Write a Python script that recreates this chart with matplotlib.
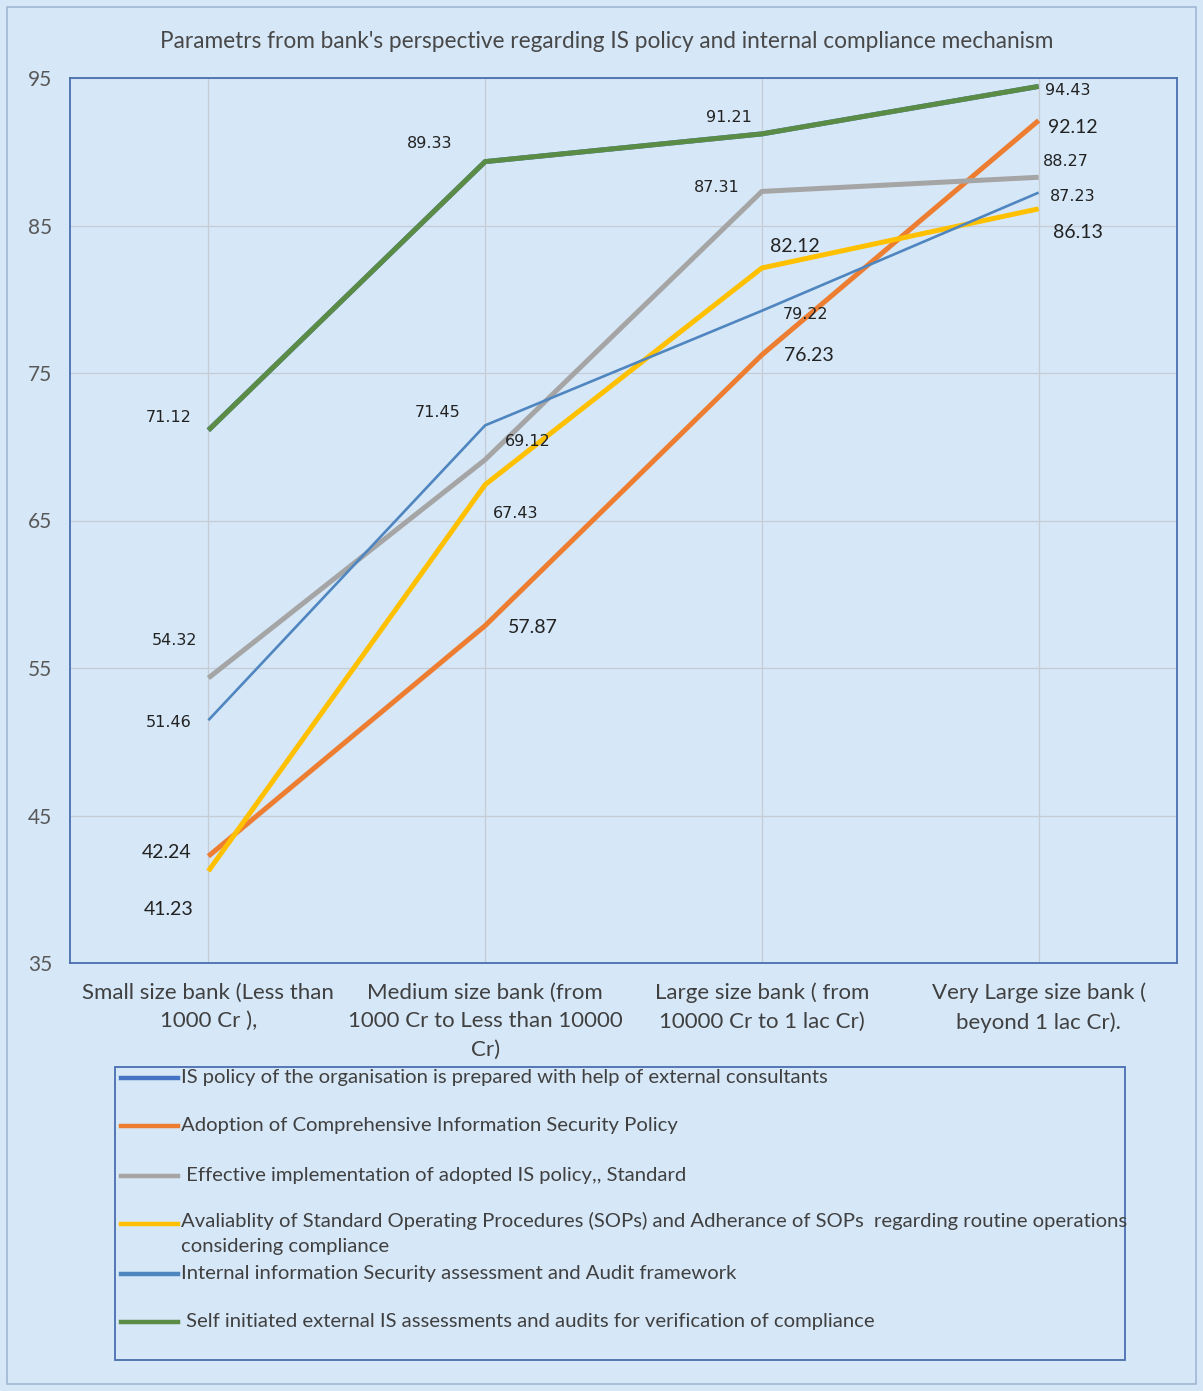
import matplotlib
matplotlib.use('Agg')
import matplotlib.pyplot as plt
from matplotlib.lines import Line2D
from matplotlib.patches import Rectangle

# chart data
categories = [
    "Small size bank (Less than\n1000 Cr ),",
    "Medium size bank (from\n1000 Cr to Less than 10000\nCr)",
    "Large size bank ( from\n10000 Cr to 1 lac Cr)",
    "Very Large size bank (\nbeyond 1 lac Cr).",
]
series_names = [
    "IS policy of the organisation is prepared with help of external consultants",
    "Adoption of Comprehensive Information Security Policy",
    " Effective implementation of adopted IS policy,, Standard",
    "Avaliablity of Standard Operating Procedures (SOPs) and Adherance of SOPs  regarding routine operations\nconsidering compliance",
    "Internal information Security assessment and Audit framework",
    " Self initiated external IS assessments and audits for verification of compliance",
]
is_policy_external = [71.12, 89.33, 91.21, 94.43]
adoption_policy = [42.24, 57.87, 76.23, 92.12]
effective_impl = [54.32, 69.12, 87.31, 88.27]
sop_availability = [41.23, 67.43, 82.12, 86.13]
internal_audit = [51.46, 71.45, 79.22, 87.23]
external_audit = [71.12, 89.33, 91.21, 94.43]
y_ticks = [35, 45, 55, 65, 75, 85, 95]
title = "Parametrs from bank's perspective regarding IS policy and internal compliance mechanism"

series = [is_policy_external, adoption_policy, effective_impl,
          sop_availability, internal_audit, external_audit]
colors = ["#4472C4", "#ED7D31", "#A5A5A5", "#FFC000", "#4F86C0", "#5B8C46"]
widths = [3.6, 3.6, 3.6, 3.6, 1.9, 3.6]

# label offsets in pixels from each point (row per series)
label_offsets = [
    None,
    [(-42, 4), (48, -2), (47, -1), (34, -7)],
    [(-34, 38), (43, 18), (-45, 4), (27, 16)],
    [(-40, -38), (30, -29), (33, 21), (39, -24)],
    [(-40, -2), (-47, 13), (44, -4), (34, -4)],
    [(-40, 13), (-55, 18), (-33, 16), (29, -4)],
]
big_labels = {(1, 0), (1, 1), (1, 2), (1, 3), (3, 0), (3, 2), (3, 3)}

W, H = 1203, 1391
bg = "#d6e7f7"
plt.rcParams['font.family'] = ['Lato', 'DejaVu Sans']

fig = plt.figure(figsize=(W / 100, H / 100), dpi=100, facecolor=bg)
ax = fig.add_axes([70 / W, 1 - 963 / H, 1107 / W, (963 - 78) / H])
ax.set_facecolor(bg)

x = list(range(len(categories)))
for i, (vals, c, lw) in enumerate(zip(series, colors, widths)):
    ax.plot(x, vals, color=c, lw=lw, solid_capstyle='butt', zorder=3 + i)

for i, vals in enumerate(series):
    if label_offsets[i] is None:
        continue
    for j, v in enumerate(vals):
        dx, dy = label_offsets[i][j]
        if (i, j) in big_labels:
            ax.annotate(f"{v:.2f}", (j, v), xytext=(dx, dy), textcoords='offset pixels',
                        ha='center', va='center', fontsize=14, color='#222222', zorder=10)
        else:
            ax.annotate(f"{v:.2f}", (j, v), xytext=(dx, dy), textcoords='offset pixels',
                        ha='center', va='center', fontsize=11.5, color='#222222',
                        family='DejaVu Sans', zorder=10)

ax.set_xlim(-0.5, 3.5)
ax.set_ylim(35, 95)
ax.set_yticks(y_ticks)
ax.set_yticklabels([str(t) for t in y_ticks], fontsize=15, color='#595959')
ax.set_xticks(x)
ax.set_xticklabels(categories, fontsize=16, color='#404040', linespacing=1.55, va='top')
ax.tick_params(length=0, pad=14, axis='x')
ax.tick_params(length=0, pad=13, axis='y')
ax.grid(True, color='#c5ccd6', lw=0.9)
ax.set_axisbelow(True)
for s in ax.spines.values():
    s.set_color('#4a6fb0')
    s.set_linewidth(1.3)

fig.text(607 / W, 1 - 41 / H, title, ha='center', va='center', fontsize=16.3, color='#484848')

# outer border
fig.patches.append(Rectangle((7 / W, 7 / H), (W - 14) / W, (H - 14) / H, transform=fig.transFigure,
                             fill=False, ec='#9fb6d3', lw=1.2))

# legend box drawn by hand
fig.patches.append(Rectangle((115 / W, 1 - 1360 / H), 1010 / W, 293 / H, transform=fig.transFigure,
                             fill=False, ec='#4a6fb0', lw=1.3))
rows = [1078, 1126, 1176, 1224, 1274, 1322]
for name, c, yp in zip(series_names, colors, rows):
    yf = 1 - yp / H
    fig.lines.append(Line2D([121 / W, 178 / W], [yf, yf], transform=fig.transFigure,
                            color=c, lw=3.2))
    if '\n' in name:
        fig.text(181 / W, yf + 12 / H, name, ha='left', va='top', fontsize=14.6,
                 color='#404040', linespacing=1.6)
    else:
        fig.text(181 / W, yf, name, ha='left', va='center', fontsize=14.6, color='#404040')

fig.savefig("out.png", dpi=100, facecolor=bg)
